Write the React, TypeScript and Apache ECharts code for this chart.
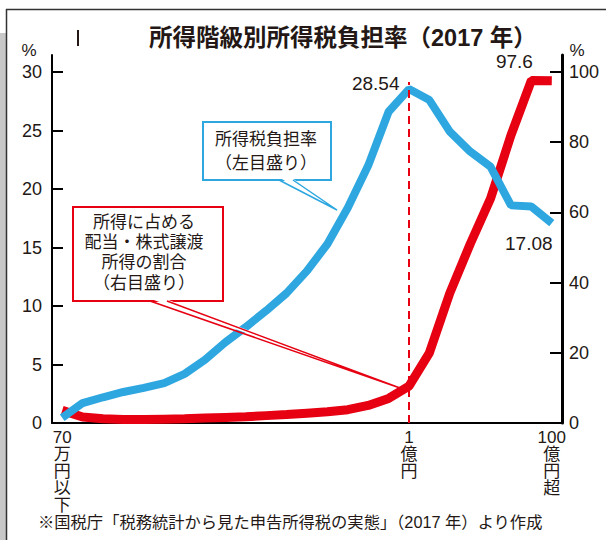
import React, { useEffect, useRef } from 'react';
import * as echarts from 'echarts';

// ---- data ----
const categories = [
  '70万円以下', '100万円以下', '150万円以下', '200万円以下', '250万円以下',
  '300万円以下', '400万円以下', '500万円以下', '600万円以下', '700万円以下',
  '800万円以下', '1000万円以下', '1200万円以下', '1500万円以下', '2000万円以下',
  '3000万円以下', '5000万円以下', '1億円以下', '2億円以下', '5億円以下',
  '10億円以下', '20億円以下', '50億円以下', '100億円以下', '100億円超',
];
// 所得税負担率 (%) — left axis
const taxBurden = [
  0.45, 1.7, 2.2, 2.65, 3.0, 3.4, 4.2, 5.4, 6.9, 8.2,
  9.6, 11.1, 13.0, 15.3, 18.4, 22.0, 26.6, 28.54, 27.6, 24.9,
  23.2, 21.9, 18.6, 18.5, 17.08,
];
// 所得に占める配当・株式譲渡所得の割合 (%) — right axis
const dividendShare = [
  3.6, 1.7, 1.2, 1.0, 1.0, 1.1, 1.2, 1.4, 1.6, 1.8,
  2.1, 2.4, 2.8, 3.2, 3.8, 5.0, 7.0, 10.5, 20.0, 37.0,
  51.0, 64.0, 82.0, 97.6, 97.5,
];
const xTickLabelIndex = [0, 17, 24];
const xTickLabels = ['70\n万\n円\n以\n下', '1\n億\n円', '100\n億\n円\n超'];
const leftTicks = [0, 5, 10, 15, 20, 25, 30];
const rightTicks = [0, 20, 40, 60, 80, 100];
const peakIndex = 17;
const shareLabelIndex = 23;
const lastIndex = 24;
const titleText = '所得階級別所得税負担率（2017 年）';
const sourceText = '※国税庁「税務統計から見た申告所得税の実態」（2017 年）より作成';
const blueNote = ['所得税負担率', '（左目盛り）'];
const redNote = ['所得に占める', '配当・株式譲渡', '所得の割合', '（右目盛り）'];

const BLUE = '#2ea7e0';
const RED = '#e60012';
const INK = '#231815';
const FONT = "'Liberation Sans', 'Noto Sans CJK JP', sans-serif";

export default function App() {
  const ref = useRef<HTMLDivElement>(null);

  useEffect(() => {
    if (!ref.current) return;
    const chart = echarts.init(ref.current, undefined, { renderer: 'svg' });

    const txt = (text: string, x: number, y: number, size: number, align = 'center', weight = 'normal') => ({
      type: 'text',
      x,
      y,
      z: 100,
      silent: true,
      style: {
        text,
        fill: INK,
        font: `${weight} ${size}px ${FONT}`,
        textAlign: align,
        textVerticalAlign: 'middle',
      },
    });

    const graphics: any[] = [
      { type: 'rect', z: 100, silent: true, shape: { x: 0, y: 33, width: 6, height: 507 }, style: { fill: '#c8c8c8' } },
      { type: 'line', z: 100, silent: true, shape: { x1: 6.5, y1: 9, x2: 6.5, y2: 540 }, style: { stroke: '#333', lineWidth: 1.5 } },
      { type: 'line', z: 100, silent: true, shape: { x1: 6, y1: 9.5, x2: 606, y2: 9.5 }, style: { stroke: '#333', lineWidth: 1.5 } },
      { type: 'line', z: 100, silent: true, shape: { x1: 78, y1: 30, x2: 78, y2: 46 }, style: { stroke: INK, lineWidth: 2 } },
      txt(titleText, 149, 38, 23.5, 'left', 'bold'),
      txt(sourceText, 38, 522, 16.3, 'left'),
      txt('%', 29, 50, 17),
      txt('%', 577, 50, 17),
      // blue note box
      { type: 'rect', z: 100, silent: true, shape: { x: 203, y: 122, width: 128, height: 58 }, style: { fill: '#fff', stroke: BLUE, lineWidth: 2 } },
      { type: 'polygon', z: 101, silent: true, shape: { points: [[280, 178], [292, 178], [337, 210]] }, style: { fill: '#fff' } },
      { type: 'polyline', z: 102, silent: true, shape: { points: [[279, 180], [337, 210], [293, 180]] }, style: { stroke: BLUE, lineWidth: 1.5, fill: 'none' } },
      // red note box
      { type: 'rect', z: 100, silent: true, shape: { x: 73, y: 207, width: 150, height: 94 }, style: { fill: '#fff', stroke: RED, lineWidth: 2 } },
      { type: 'polygon', z: 101, silent: true, shape: { points: [[151, 299], [166, 299], [400, 388]] }, style: { fill: '#fff' } },
      { type: 'polyline', z: 102, silent: true, shape: { points: [[150, 301], [400, 388], [167, 301]] }, style: { stroke: RED, lineWidth: 1.5, fill: 'none' } },
    ];
    blueNote.forEach((t, i) => graphics.push(txt(t, 266, 139 + i * 24, 17)));
    redNote.forEach((t, i) => graphics.push(txt(t, 144, 222 + i * 20.4, 17)));

    const option: any = {
      animation: false,
      backgroundColor: '#fff',
      textStyle: { fontFamily: FONT },
      grid: { left: 52, right: 44, top: 55, bottom: 117, containLabel: false },
      xAxis: {
        type: 'category',
        data: categories,
        boundaryGap: true,
        axisLine: { lineStyle: { color: '#000', width: 2 } },
        axisTick: { inside: true, length: 10, interval: 0, lineStyle: { color: '#000', width: 2 } },
        axisLabel: {
          interval: 0,
          margin: 6,
          fontSize: 17,
          lineHeight: 17,
          color: INK,
          fontFamily: FONT,
          formatter: (_v: string, i: number) => {
            const k = xTickLabelIndex.indexOf(i);
            return k >= 0 ? xTickLabels[k] : '';
          },
        },
        splitLine: { show: false },
      },
      yAxis: [
        {
          type: 'value',
          min: 0,
          max: (423 - 55) / 11.7,
          position: 'left',
          axisLine: { show: true, lineStyle: { color: '#000', width: 2 } },
          axisTick: { show: true, inside: true, length: 11, customValues: leftTicks, lineStyle: { color: '#000', width: 2 } },
          axisLabel: { customValues: leftTicks, fontSize: 18, margin: 10, color: INK, fontFamily: FONT },
          splitLine: { show: false },
        },
        {
          type: 'value',
          min: 0,
          max: (423 - 55) / 3.51,
          position: 'right',
          axisLine: { show: true, lineStyle: { color: '#000', width: 3 } },
          axisTick: { show: true, inside: true, length: 12, customValues: rightTicks, lineStyle: { color: '#000', width: 2 } },
          axisLabel: { customValues: rightTicks, fontSize: 18, margin: 7, color: INK, fontFamily: FONT },
          splitLine: { show: false },
        },
      ],
      series: [
        {
          name: '所得に占める配当・株式譲渡所得の割合',
          type: 'line',
          yAxisIndex: 1,
          data: dividendShare,
          symbol: 'none',
          lineStyle: { color: RED, width: 9 },
          itemStyle: { color: RED },
          z: 2,
          markPoint: {
            symbol: 'circle',
            symbolSize: 1,
            itemStyle: { color: 'rgba(0,0,0,0)' },
            silent: true,
            data: [
              {
                coord: [categories[shareLabelIndex], dividendShare[shareLabelIndex]],
                value: dividendShare[shareLabelIndex],
                label: { show: true, position: 'top', distance: 5, offset: [-17, -4], formatter: '{c}', fontSize: 19, color: INK, fontFamily: FONT },
              },
            ],
          },
        },
        {
          name: '所得税負担率',
          type: 'line',
          yAxisIndex: 0,
          data: taxBurden,
          symbol: 'none',
          lineStyle: { color: BLUE, width: 8 },
          itemStyle: { color: BLUE },
          z: 3,
          markLine: {
            silent: true,
            symbol: ['none', 'none'],
            label: { show: false },
            lineStyle: { color: RED, width: 2, type: [8, 5] },
            data: [
              [
                { coord: [categories[peakIndex], 0] },
                { coord: [categories[peakIndex], taxBurden[peakIndex] + 0.6] },
              ],
            ],
          },
          markPoint: {
            symbol: 'circle',
            symbolSize: 1,
            itemStyle: { color: 'rgba(0,0,0,0)' },
            silent: true,
            data: [
              {
                coord: [categories[peakIndex], taxBurden[peakIndex]],
                value: taxBurden[peakIndex],
                label: { show: true, position: 'left', distance: 9, offset: [0, -6], formatter: '{c}', fontSize: 19, color: INK, fontFamily: FONT },
              },
              {
                coord: [categories[lastIndex], taxBurden[lastIndex]],
                value: taxBurden[lastIndex],
                label: { show: true, position: 'bottom', distance: 5, offset: [-23, 5], formatter: '{c}', fontSize: 19, color: INK, fontFamily: FONT },
              },
            ],
          },
        },
      ],
      graphic: graphics,
    };

    chart.setOption(option);
    return () => chart.dispose();
  }, []);

  return (
    <div
      ref={ref}
      style={{ position: 'fixed', left: 0, top: 0, width: 606, height: 540, background: '#fff' }}
    />
  );
}
